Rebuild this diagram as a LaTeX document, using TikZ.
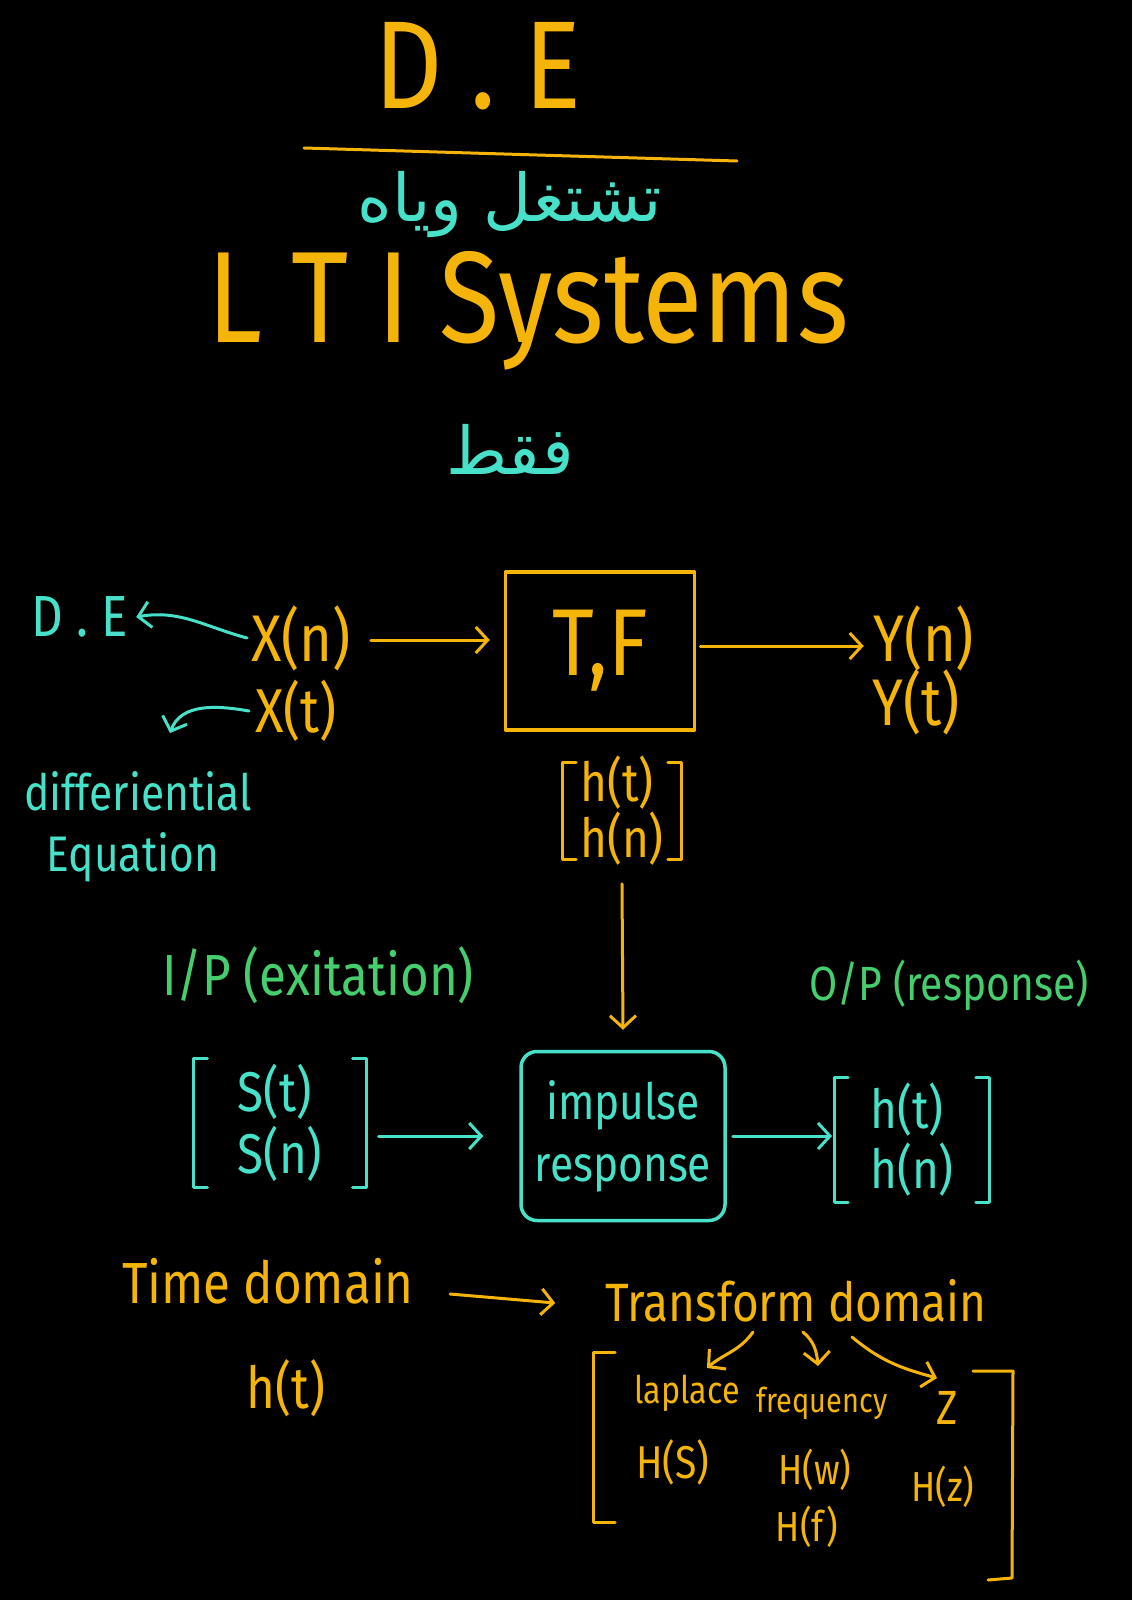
\documentclass[tikz,border=0pt]{standalone}
\usepackage{fontspec}
\setmainfont[FakeStretch=0.85]{Fira Sans}
\newfontfamily\arabicfont[Script=Arabic]{DejaVu Sans}
\TeXXeTstate=1
\usetikzlibrary{arrows.meta,calc}
\definecolor{yel}{RGB}{245,180,10}
\definecolor{cyn}{RGB}{70,225,200}
\definecolor{grn}{RGB}{70,205,110}
\newcommand{\fsz}[1]{\fontsize{#1pt}{#1pt}\selectfont}
\newcommand{\fszl}[2]{\fontsize{#1pt}{#2pt}\selectfont}
\newcommand{\brk}[5]{%
  \draw[#5,line width=3pt,line cap=round,line join=round]
    ($(#1.north west)+(-#2+#4,-#3)$) -- ++(-#4,0) -- ($(#1.south west)+(-#2,#3)$) -- ++(#4,0);
  \draw[#5,line width=3pt,line cap=round,line join=round]
    ($(#1.north east)+(#2-#4,-#3)$) -- ++(#4,0) -- ($(#1.south east)+(#2,#3)$) -- ++(-#4,0);}
\begin{document}
\begin{tikzpicture}[x=1pt,y=-1pt,
  every node/.style={inner sep=0pt,anchor=center},
  arr/.style={line width=3pt,line cap=round,line join=round,-{Straight Barb[length=12pt,width=26pt]}},
  box/.style={line width=3.5pt,line join=round}]
\useasboundingbox (0,0) rectangle (1132,1600);
\fill[black] (0,0) rectangle (1132,1600);

% title
\node[text=yel] (de) at (478,66) {\fsz{125}D\hspace{28pt}.\hspace{28pt}E};
\coordinate (l1) at (304,148);
\coordinate (l2) at (737,161);
\draw[yel,line width=3pt,line cap=round] (l1) -- (l2);
\node[text=cyn] (ar1) at (510,204) {\fsz{66}\arabicfont\beginR تشتغل وياه\endR};
\node[text=yel] (lti) at (528,311) {\fsz{130}L T I Systems};
\node[text=cyn] (ar2) at (510,449) {\fsz{66}\arabicfont\beginR فقط\endR};

% system row
\node[text=cyn] (deL) at (80,617) {\fsz{58}D . E};
\node[text=yel] (xn) at (301,638) {\fsz{66}X(n)};
\node[text=yel] (xt) at (296,711) {\fsz{62}X(t)};
\node[text=cyn] (diff) at (138,791) {\fsz{50}differiential};
\node[text=cyn] (eqn) at (133,857) {\fsz{50}Equation};
\coordinate (dtip) at (170,733);
\node[box,draw=yel,text=yel,minimum width=189pt,minimum height=158pt] (tf) at (600,651) {\fsz{95}T,F};
\node[text=yel] (yn) at (924,638) {\fsz{66}Y(n)};
\node[text=yel] (yt) at (916,702) {\fsz{66}Y(t)};
\node[text=yel,align=left,font=\fszl{54}{56}] (hg1) at (622,811) {h(t)\\h(n)};

\draw[arr,cyn] ([xshift=-4pt]xn.west) to[out=165,in=10] ([xshift=8pt]deL.east);
\draw[arr,cyn] ([xshift=-6pt]xt.west) to[out=170,in=70] (dtip);
\draw[arr,yel] ([xshift=20pt,yshift=-2pt]xn.east) -- ([xshift=-14pt,yshift=-2pt]xn.east -| tf.west);
\draw[arr,yel] ([xshift=4pt,yshift=5pt]tf.east) -- ([xshift=-10pt,yshift=5pt]tf.east -| yn.west);
\brk{hg1}{18}{-6}{14}{yel}

% I/P row
\node[text=grn] (ip) at (318,975) {\fsz{58}I/P (exitation)};
\node[text=grn] (op) at (949,985) {\fsz{48}O/P (response)};
\node[text=cyn,align=left,font=\fszl{56}{62}] (sg) at (280,1123) {S(t)\\S(n)};
\node[box,draw=cyn,text=cyn,align=center,rounded corners=16pt,minimum width=204pt,minimum height=169pt,font=\fszl{50}{62}] (imp) at (623,1136) {impulse\\response};
\node[text=cyn,align=left,font=\fszl{54}{60}] (hg2) at (912,1140) {h(t)\\h(n)};
\draw[arr,yel] ([yshift=-18pt]hg1.south) -- ([yshift=20pt]imp.north);
\draw[arr,cyn] ([xshift=56pt]sg.east |- imp.west) -- ([xshift=-36pt]imp.west);
\draw[arr,cyn] ([xshift=6pt]imp.east) -- ([xshift=-38pt]imp.east -| hg2.west);
\brk{sg}{44}{6}{14}{cyn}
\brk{hg2}{36}{6}{14}{cyn}

% domains
\node[text=yel] (time) at (268,1281) {\fsz{58}Time domain};
\node[text=yel] (trans) at (796,1301) {\fsz{54}Transform domain};
\node[text=yel] (ht) at (286,1388) {\fsz{58}h(t)};
\draw[arr,yel] ([xshift=36pt,yshift=-13pt]time.east) -- ([xshift=-50pt,yshift=-2pt]trans.west);

\node[text=yel] (lap) at (687,1393) {\fsz{38}laplace};
\node[text=yel] (freq) at (822,1403) {\fsz{34}frequency};
\node[text=yel] (z) at (947,1408) {\fsz{48}Z};
\node[text=yel] (hs) at (673,1462) {\fsz{46}H(S)};
\node[text=yel] (hw) at (815,1470) {\fsz{42}H(w)};
\node[text=yel] (hf) at (807,1527) {\fsz{42}H(f)};
\node[text=yel] (hz) at (943,1487) {\fsz{42}H(z)};
\coordinate (a1) at (753,1332);
\coordinate (a2) at (803,1332);
\coordinate (a3) at (852,1337);
\coordinate (t1) at (707,1368);
\coordinate (t2) at (818,1366);
\coordinate (t3) at (937,1378);
\draw[arr,yel] (a1) to[out=235,in=40] (t1);
\draw[arr,yel] (a2) to[out=-40,in=95] (t2);
\draw[arr,yel] (a3) to[out=-40,in=165] (t3);
% big bracket
\coordinate (b1) at (615,1352);
\coordinate (b2) at (593,1352);
\coordinate (b3) at (593,1522);
\coordinate (b4) at (615,1522);
\coordinate (c1) at (973,1371);
\coordinate (c2) at (1013,1371);
\coordinate (c3) at (1012,1578);
\coordinate (c4) at (988,1580);
\draw[yel,line width=3pt,line cap=round,line join=round] (b1) -- (b2) -- (b3) -- (b4);
\draw[yel,line width=3pt,line cap=round,line join=round] (c1) -- (c2) -- (c3) -- (c4);
\end{tikzpicture}
\end{document}
